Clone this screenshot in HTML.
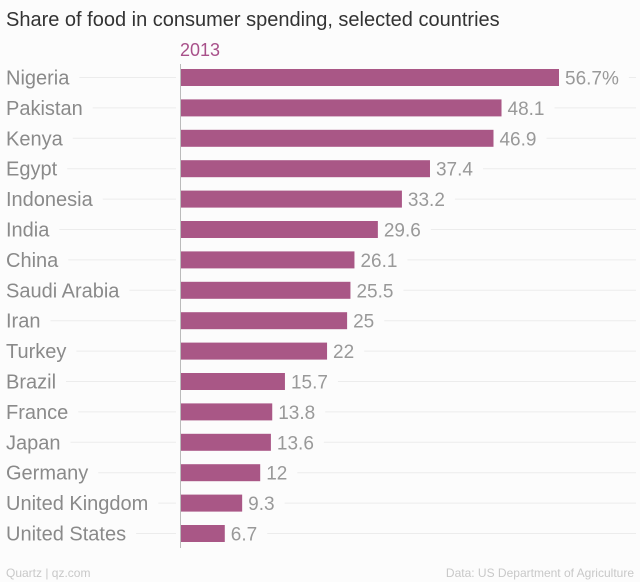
<!DOCTYPE html>
<html><head><meta charset="utf-8"><style>
body{margin:0;background:#fcfcfc;}
svg{display:block;font-family:"Liberation Sans",sans-serif;}
</style></head><body>
<svg id="chart" width="640" height="582">
<text x="6" y="26" font-size="20" fill="#333">Share of food in consumer spending, selected countries</text>
<text x="180" y="56" font-size="18" fill="#a8518a">2013</text>
<text x="6" y="577" font-size="12" fill="#c8c8c8">Quartz | qz.com</text>
<text x="634" y="577" font-size="12" fill="#c8c8c8" text-anchor="end">Data: US Department of Agriculture</text>
<g id="grid"></g><g id="bars"></g>
<line x1="180.5" x2="180.5" y1="64" y2="548" stroke="#bbb" stroke-width="1"/>
</svg>
<script>
const categories=["Nigeria","Pakistan","Kenya","Egypt","Indonesia","India","China","Saudi Arabia","Iran","Turkey","Brazil","France","Japan","Germany","United Kingdom","United States"];
const values=[56.7,48.1,46.9,37.4,33.2,29.6,26.1,25.5,25,22,15.7,13.8,13.6,12,9.3,6.7];
const valueLabels=["56.7%","48.1","46.9","37.4","33.2","29.6","26.1","25.5","25","22","15.7","13.8","13.6","12","9.3","6.7"];
const NS="http://www.w3.org/2000/svg";
const x0=180, xs=v=>x0+v*(379/56.7);
const yc=i=>77.5+i*30.4;
const grid=document.getElementById('grid'), bars=document.getElementById('bars');
function mk(tag,attrs,parent){const e=document.createElementNS(NS,tag);for(const k in attrs)e.setAttribute(k,attrs[k]);parent.appendChild(e);return e;}
categories.forEach((c,i)=>{
  const t=mk('text',{x:6,y:yc(i)+7,'font-size':20,fill:'#8a8a8a'},bars);
  t.textContent=c;
  
  
  const w=t.getComputedTextLength();
  const g1=mk('line',{x1:6+w+10,x2:176,y1:yc(i),y2:yc(i),stroke:'#ececec'},grid);
  
  
  const b=mk('rect',{x:x0+1,y:yc(i)-8.5,width:xs(values[i])-x0-1,height:17,fill:'#a95786'},bars);
  
  
  const v=mk('text',{x:xs(values[i])+6,y:yc(i)+7,'font-size':19,fill:'#999'},bars);
  v.textContent=valueLabels[i];
  
  
  const vw=v.getComputedTextLength();
  const g2=mk('line',{x1:xs(values[i])+6+vw+10,x2:636,y1:yc(i),y2:yc(i),stroke:'#ececec'},grid);
  
  
});
</script>
</body></html>
